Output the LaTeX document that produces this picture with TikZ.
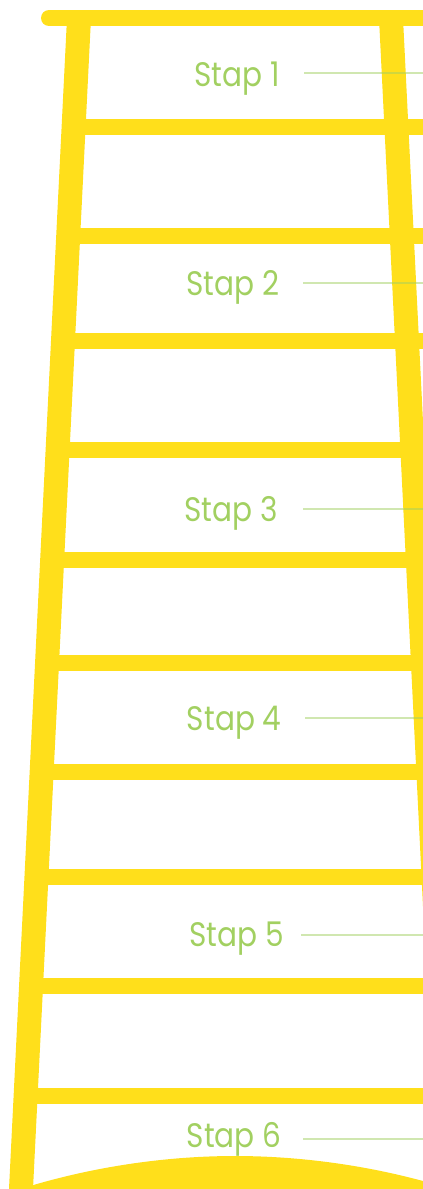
\documentclass[tikz,border=0pt]{standalone}
\usepackage{fontspec}
\newfontfamily\lblfont{Poppins}
\definecolor{ladder}{HTML}{FFDF1B}
\definecolor{stapgreen}{HTML}{A2D061}
\newcommand{\staptext}[1]{\scalebox{0.87}[1]{#1}}
\tikzset{
  rail/.style={fill=ladder},
  rung/.style={fill=ladder},
  stap/.style={font=\lblfont\fontsize{17}{20}\selectfont, text=stapgreen, inner sep=0pt, anchor=base east},
  stapline/.style={draw=stapgreen, draw opacity=0.5, line width=1.3pt}
}
\begin{document}
\begin{tikzpicture}[x=0.5pt,y=-0.5pt]
\useasboundingbox (0,0) rectangle (423,1189);
\clip (0,0) rectangle (423,1189);
% rails
\fill[rail] (67,18) -- (91,18) -- (33,1189) -- (9,1189) -- cycle;
\fill[rail] (379,18) -- (403,18) -- (461,1189) -- (437,1189) -- cycle;
% rungs
\foreach \y in {127,236,341,450,560,663,772,877,986,1096} {
  \fill[rung] ({79-0.05*(\y-26)},\y-8) rectangle (450,\y+8);
}
% top bar
\draw[ladder, line width=8pt, line cap=round] (49,18) -- (460,18);
% bottom arc
\fill[ladder] (30,1186) parabola bend (235,1156) (423,1181) -- (423,1189) -- (30,1189) -- cycle;
% labels
\node[stap] (s1) at (280,86) {\staptext{Stap 1}};
\node[stap] (s2) at (280,295) {\staptext{Stap 2}};
\node[stap] (s3) at (278,521) {\staptext{Stap 3}};
\node[stap] (s4) at (282,730) {\staptext{Stap 4}};
\node[stap] (s5) at (284,946) {\staptext{Stap 5}};
\node[stap] (s6) at (282,1147) {\staptext{Stap 6}};
% connector lines
\coordinate (l1a) at (304,73);  \coordinate (l1b) at (423,73);
\coordinate (l2a) at (303,283); \coordinate (l2b) at (423,283);
\coordinate (l3a) at (303,509); \coordinate (l3b) at (423,509);
\coordinate (l4a) at (305,718); \coordinate (l4b) at (423,718);
\coordinate (l5a) at (301,935); \coordinate (l5b) at (423,935);
\coordinate (l6a) at (303,1139); \coordinate (l6b) at (423,1139);
\foreach \i in {1,...,6} { \draw[stapline] (l\i a) -- (l\i b); }
\end{tikzpicture}
\end{document}
